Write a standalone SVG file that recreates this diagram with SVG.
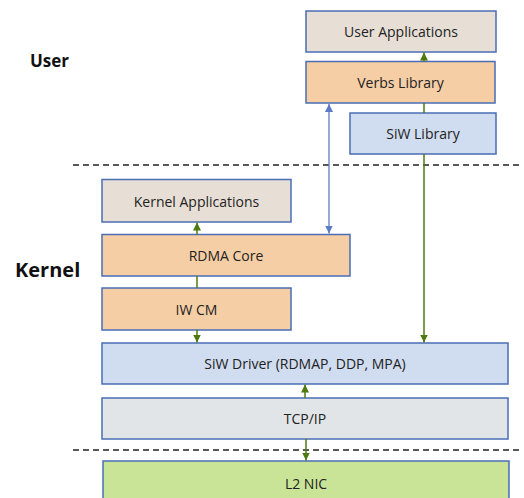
<svg xmlns="http://www.w3.org/2000/svg" width="524" height="498" viewBox="0 0 524 498">
<style>
.box{stroke:#4a6db5;stroke-width:1.5}
.t{font-family:"Open Sans","Liberation Sans",sans-serif;font-size:14px;fill:#222;text-anchor:middle;dominant-baseline:central}
.lbl{font-family:"Open Sans","Liberation Sans",sans-serif;font-weight:bold;fill:#111}
.g{stroke:#4f7a12;stroke-width:1.5;fill:none}
.b{stroke:#5b7bc6;stroke-width:1.3;fill:none}
.dash{stroke:#222;stroke-width:1.3;stroke-dasharray:6,4}
</style>
<defs>
<marker id="ag" viewBox="0 0 10 10" refX="10" refY="5" markerWidth="8" markerHeight="8" markerUnits="userSpaceOnUse" orient="auto"><path d="M0,0 L10,5 L0,10 z" fill="#4f7a12"/></marker>
<marker id="ab" viewBox="0 0 10 10" refX="10" refY="5" markerWidth="8" markerHeight="8" markerUnits="userSpaceOnUse" orient="auto-start-reverse"><path d="M0,0 L10,5 L0,10 z" fill="#5b7bc6"/></marker>
</defs>
<rect width="524" height="498" fill="#fff"/>
<text class="lbl" x="30" y="67" font-size="17">User</text>
<text class="lbl" x="15" y="277" font-size="20">Kernel</text>
<line class="dash" x1="73" y1="165" x2="522" y2="165"/>
<line class="dash" x1="73" y1="450" x2="522" y2="450"/>
<g id="user-applications"><rect class="box" x="306" y="11" width="190" height="41" fill="#e7dfd6"/><text class="t" x="401" y="31.5">User Applications</text></g>
<g id="verbs-library"><rect class="box" x="306" y="61.5" width="189" height="41.5" fill="#f6cea6"/><text class="t" x="400.5" y="82">Verbs Library</text></g>
<g id="siw-library"><rect class="box" x="350" y="113" width="146" height="41" fill="#d0dcef"/><text class="t" x="423" y="133.5">SiW Library</text></g>
<g id="kernel-applications"><rect class="box" x="102" y="179.5" width="189" height="42.5" fill="#e7dfd6"/><text class="t" x="196.5" y="201">Kernel Applications</text></g>
<g id="rdma-core"><rect class="box" x="102" y="234.5" width="248" height="41.5" fill="#f6cea6"/><text class="t" x="226" y="255">RDMA Core</text></g>
<g id="iw-cm"><rect class="box" x="102" y="288" width="189" height="42" fill="#f6cea6"/><text class="t" x="196.5" y="309">IW CM</text></g>
<g id="siw-driver"><rect class="box" x="102" y="343" width="406" height="41" fill="#d0dcef"/><text class="t" x="305" y="363.5">SiW Driver (RDMAP, DDP, MPA)</text></g>
<g id="tcp-ip"><rect class="box" x="102" y="398" width="406" height="41" fill="#e2e5e8"/><text class="t" x="305" y="418.5">TCP/IP</text></g>
<g id="l2-nic"><rect class="box" x="103" y="461" width="406" height="45" fill="#c9e497"/><text class="t" x="306" y="483">L2 NIC</text></g>
<g id="connectors">
<line class="g" x1="424" y1="61.5" x2="424" y2="52.5" marker-end="url(#ag)"/>
<line class="g" x1="424" y1="103" x2="424" y2="113"/>
<line class="g" x1="424" y1="154" x2="424" y2="342.5" marker-end="url(#ag)"/>
<line class="b" x1="329" y1="104" x2="329" y2="233.5" marker-start="url(#ab)" marker-end="url(#ab)"/>
<line class="g" x1="197" y1="234.5" x2="197" y2="222.5" marker-end="url(#ag)"/>
<line class="g" x1="197" y1="276" x2="197" y2="288"/>
<line class="g" x1="197" y1="330" x2="197" y2="342.5" marker-end="url(#ag)"/>
<line class="g" x1="305" y1="398" x2="305" y2="384.5" marker-end="url(#ag)"/>
<line class="g" x1="306" y1="439" x2="306" y2="460.5" marker-end="url(#ag)"/>
</g>
</svg>
